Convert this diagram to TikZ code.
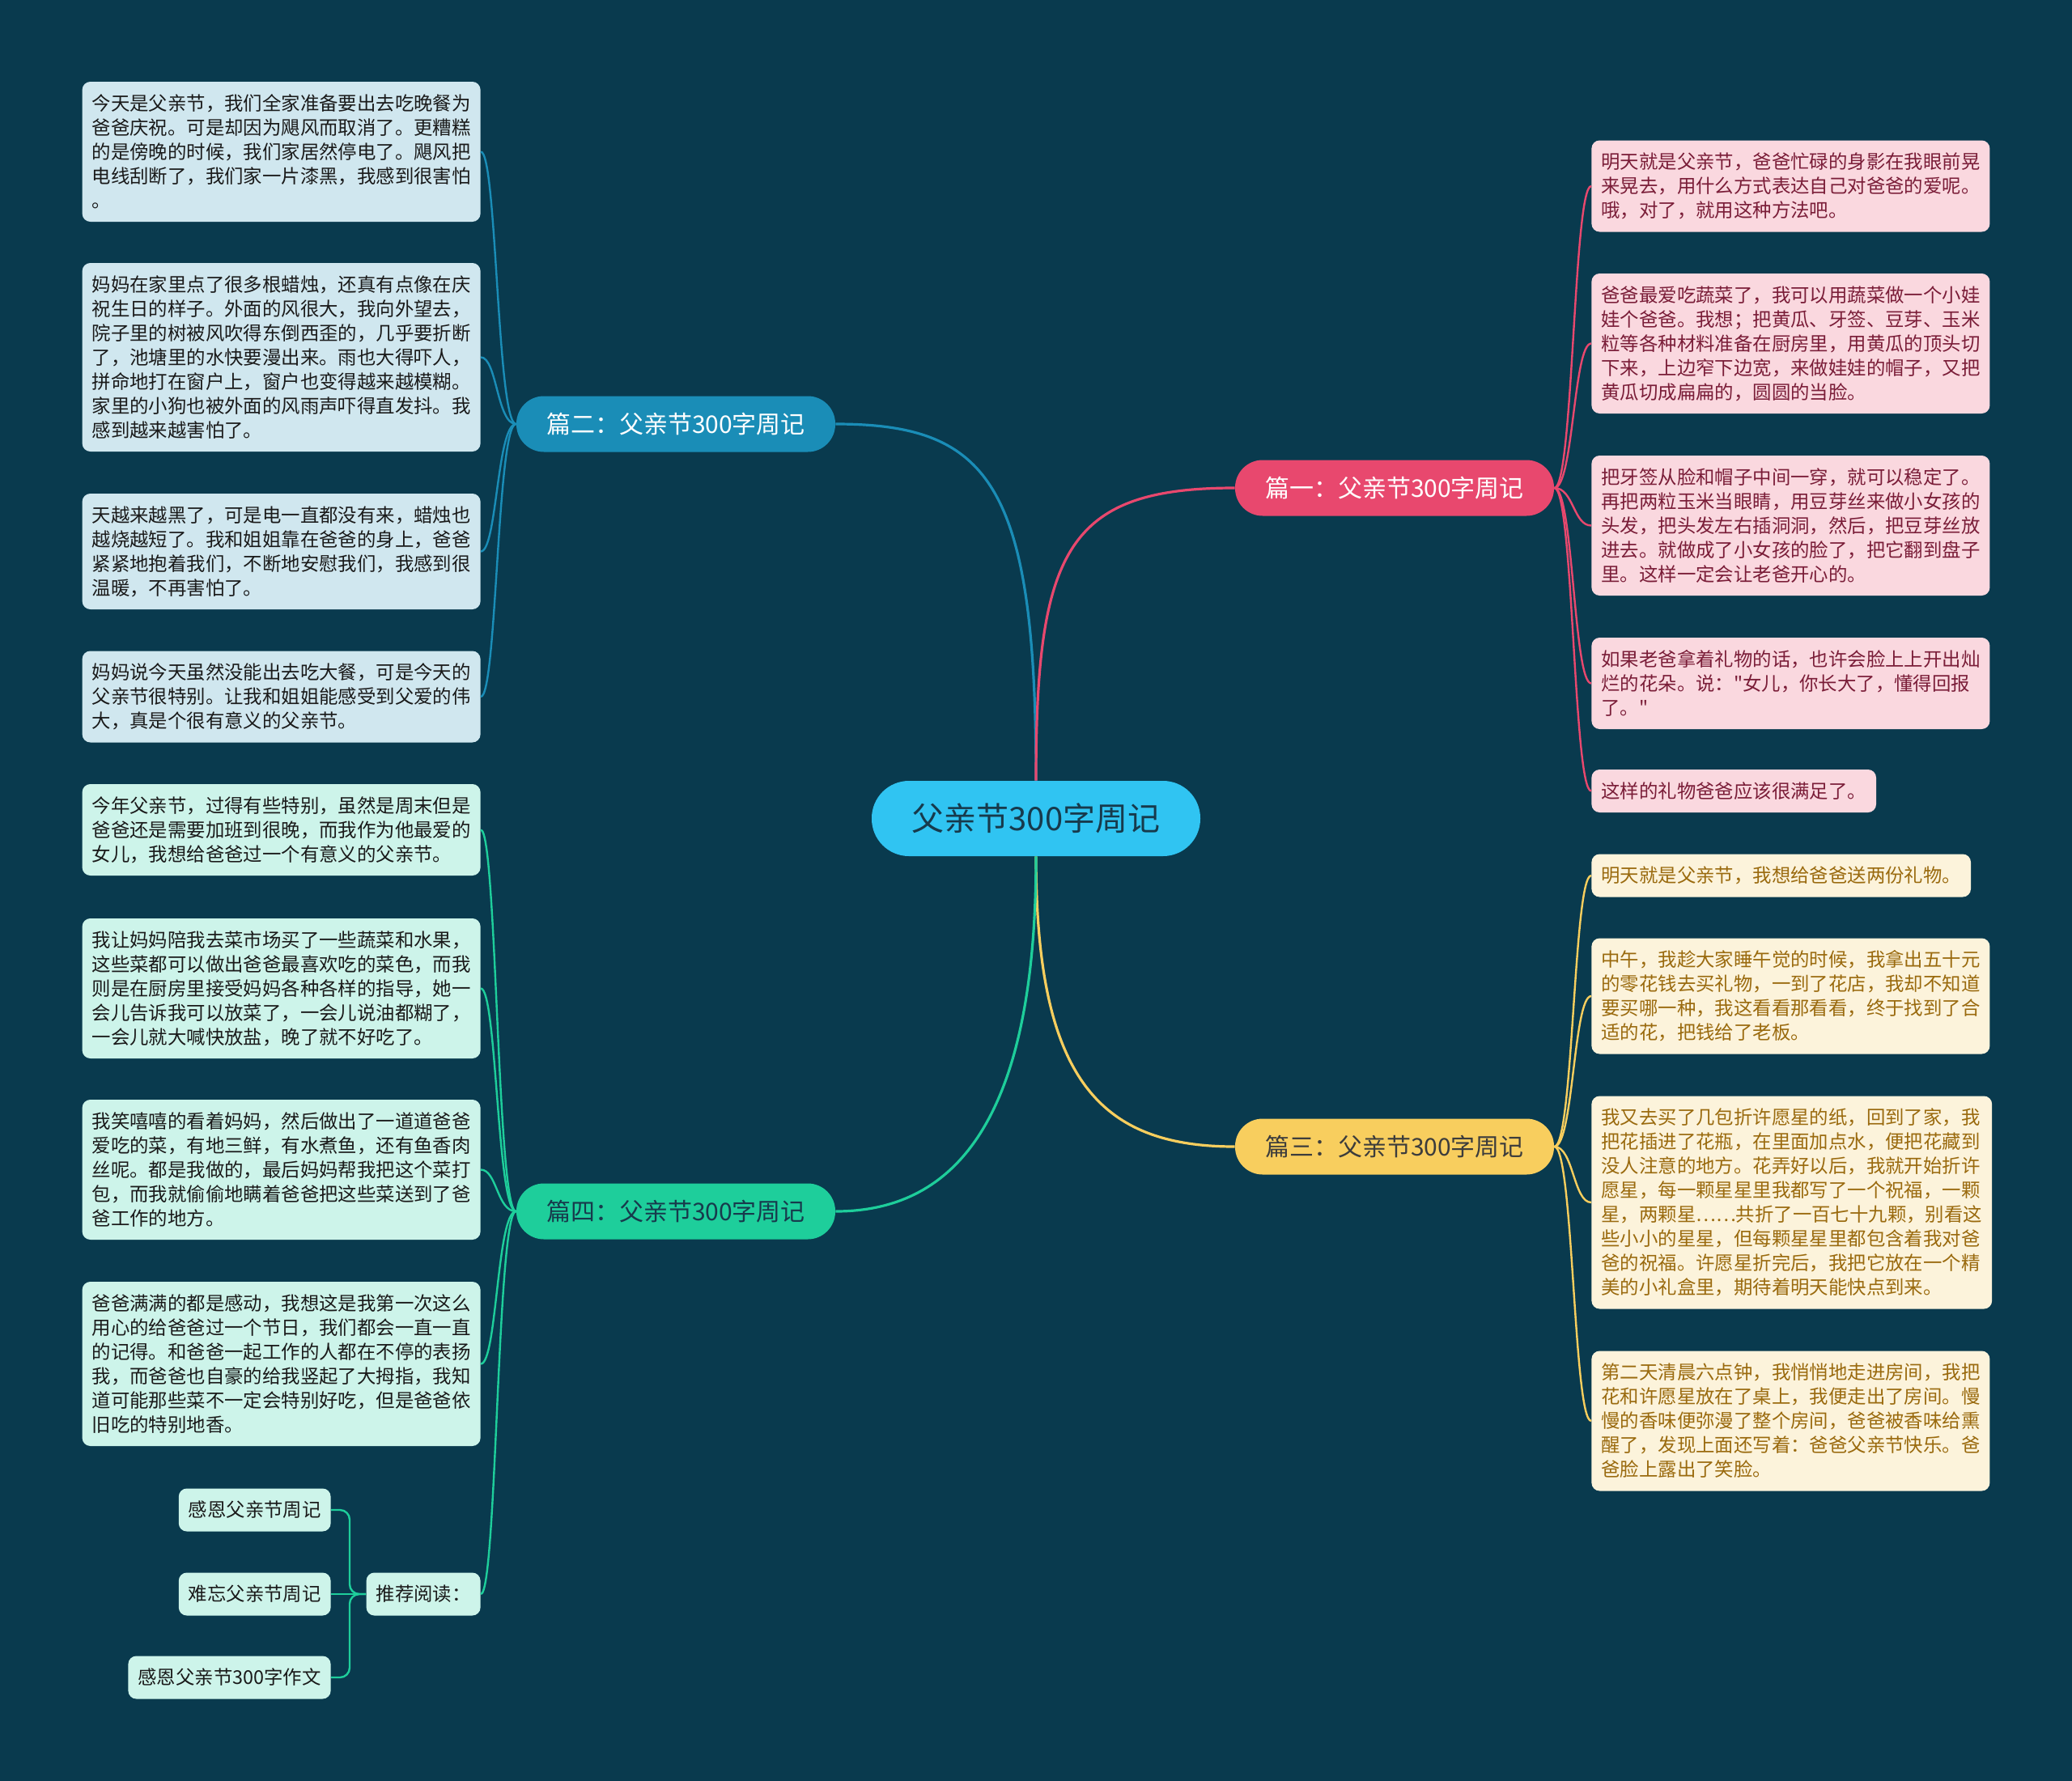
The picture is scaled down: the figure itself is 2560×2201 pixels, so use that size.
\documentclass[tikz,border=0pt]{standalone}
\usepackage{fontspec}
\setmainfont{Noto Sans CJK SC}
\newfontfamily\plainq{Noto Sans CJK SC}
\definecolor{bg}{HTML}{093A4E}
\definecolor{cblue}{HTML}{30C4F2}
\definecolor{bblue}{HTML}{1A8DB7}
\definecolor{bpink}{HTML}{E8486E}
\definecolor{byellow}{HTML}{F8CE5E}
\definecolor{bgreen}{HTML}{1ECE9B}
\definecolor{fblue}{HTML}{D0E7EF}
\definecolor{fpink}{HTML}{FAD8DF}
\definecolor{fcream}{HTML}{FCF3DB}
\definecolor{fmint}{HTML}{CDF4EA}
\definecolor{tdark}{HTML}{1A1A1A}
\definecolor{tpink}{HTML}{7A1D38}
\definecolor{tcream}{HTML}{9A6A0E}
\definecolor{tcenter}{HTML}{173A4C}
\begin{document}
\begin{tikzpicture}[x=0.5pt,y=-0.5pt,
  center/.style={fill=cblue, text=tcenter, rounded corners=23pt, minimum width=203pt, minimum height=46.5pt, font=\fontsize{20pt}{24pt}\selectfont},
  branch/.style={rounded corners=17pt, minimum width=197pt, minimum height=34.5pt, font=\fontsize{15pt}{18pt}\selectfont},
  leaf/.style={rounded corners=5pt, inner xsep=6pt, inner ysep=0pt, align=left, font=\fontsize{11.7pt}{15pt}\selectfont},
  nlines/.style={minimum height={#1*15pt+11.5pt}},
  leafB/.style={leaf, fill=fblue, text=tdark, anchor=east},
  leafM/.style={leaf, fill=fmint, text=tdark, anchor=east},
  leafP/.style={leaf, fill=fpink, text=tpink, anchor=west},
  leafY/.style={leaf, fill=fcream, text=tcream, anchor=west},
  mainline/.style={line width=1.6pt},
  subline/.style={line width=1.2pt},
]
\fill[bg] (0,0) rectangle (2560,2201);
\useasboundingbox (0,0) rectangle (2560,2201);

\coordinate (jl) at (614,0);
\coordinate (jr) at (1944,0);
\coordinate (jrec) at (432,0);

% center and branches
\node[center] (c) at (1280,1011.5) {父亲节300字周记};
\node[branch, fill=bblue, text=white] (b2) at (835,524) {篇二：父亲节300字周记};
\node[branch, fill=bpink, text=white] (b1) at (1723,603) {篇一：父亲节300字周记};
\node[branch, fill=byellow, text=tdark!85] (b3) at (1723,1417) {篇三：父亲节300字周记};
\node[branch, fill=bgreen, text=tcenter] (b4) at (835,1497) {篇四：父亲节300字周记};

\draw[mainline, bblue] (c.north) .. controls +(0,-367) and +(190,0) .. (b2.east);
\draw[mainline, bpink] (c.north) .. controls +(0,-285) and +(-207,0) .. (b1.west);
\draw[mainline, byellow] (c.south) .. controls +(0,275) and +(-167,0) .. (b3.west);
\draw[mainline, bgreen] (c.south) .. controls +(0,322) and +(150,0) .. (b4.east);

% left top leaves
\node[leafB, nlines=5] (l1) at (594,187.5) {今天是父亲节，我们全家准备要出去吃晚餐为\\爸爸庆祝。可是却因为飓风而取消了。更糟糕\\的是傍晚的时候，我们家居然停电了。飓风把\\电线刮断了，我们家一片漆黑，我感到很害怕\\。};
\node[leafB, nlines=7] (l2) at (594,441.5) {妈妈在家里点了很多根蜡烛，还真有点像在庆\\祝生日的样子。外面的风很大，我向外望去，\\院子里的树被风吹得东倒西歪的，几乎要折断\\了，池塘里的水快要漫出来。雨也大得吓人，\\拼命地打在窗户上，窗户也变得越来越模糊。\\家里的小狗也被外面的风雨声吓得直发抖。我\\感到越来越害怕了。};
\node[leafB, nlines=4] (l3) at (594,681.5) {天越来越黑了，可是电一直都没有来，蜡烛也\\越烧越短了。我和姐姐靠在爸爸的身上，爸爸\\紧紧地抱着我们，不断地安慰我们，我感到很\\温暖，不再害怕了。};
\node[leafB, nlines=3] (l4) at (594,861) {妈妈说今天虽然没能出去吃大餐，可是今天的\\父亲节很特别。让我和姐姐能感受到父爱的伟\\大，真是个很有意义的父亲节。};

\foreach \n in {l1,l2,l3,l4}
  \draw[subline, bblue] (b2.west) .. controls (b2.west -| jl) and (\n.east -| jl) .. (\n.east);

% left bottom leaves
\node[leafM, nlines=3] (m1) at (594,1025.5) {今年父亲节，过得有些特别，虽然是周末但是\\爸爸还是需要加班到很晚，而我作为他最爱的\\女儿，我想给爸爸过一个有意义的父亲节。};
\node[leafM, nlines=5] (m2) at (594,1221.5) {我让妈妈陪我去菜市场买了一些蔬菜和水果，\\这些菜都可以做出爸爸最喜欢吃的菜色，而我\\则是在厨房里接受妈妈各种各样的指导，她一\\会儿告诉我可以放菜了，一会儿说油都糊了，\\一会儿就大喊快放盐，晚了就不好吃了。};
\node[leafM, nlines=5] (m3) at (594,1445.5) {我笑嘻嘻的看着妈妈，然后做出了一道道爸爸\\爱吃的菜，有地三鲜，有水煮鱼，还有鱼香肉\\丝呢。都是我做的，最后妈妈帮我把这个菜打\\包，而我就偷偷地瞒着爸爸把这些菜送到了爸\\爸工作的地方。};
\node[leafM, nlines=6] (m4) at (594,1685.5) {爸爸满满的都是感动，我想这是我第一次这么\\用心的给爸爸过一个节日，我们都会一直一直\\的记得。和爸爸一起工作的人都在不停的表扬\\我，而爸爸也自豪的给我竖起了大拇指，我知\\道可能那些菜不一定会特别好吃，但是爸爸依\\旧吃的特别地香。};
\node[leafM, nlines=1] (rec) at (594,1970) {推荐阅读：};

\foreach \n in {m1,m2,m3,m4,rec}
  \draw[subline, bgreen] (b4.west) .. controls (b4.west -| jl) and (\n.east -| jl) .. (\n.east);

\node[leafM, nlines=1] (s1) at (409,1866) {感恩父亲节周记};
\node[leafM, nlines=1] (s2) at (409,1970) {难忘父亲节周记};
\node[leafM, nlines=1] (s3) at (409,2073) {感恩父亲节300字作文};

\draw[subline, bgreen, rounded corners=6pt] (rec.west) -- (rec.west -| jrec) -- (s1.east -| jrec) -- (s1.east);
\draw[subline, bgreen, rounded corners=6pt] (rec.west) -- (rec.west -| jrec) -- (s3.east -| jrec) -- (s3.east);
\draw[subline, bgreen] (rec.west) -- (s2.east);

% right top leaves
\node[leafP, nlines=3] (r1) at (1966,230) {明天就是父亲节，爸爸忙碌的身影在我眼前晃\\来晃去，用什么方式表达自己对爸爸的爱呢。\\哦，对了，就用这种方法吧。};
\node[leafP, nlines=5] (r2) at (1966,424.5) {爸爸最爱吃蔬菜了，我可以用蔬菜做一个小娃\\娃个爸爸。我想；把黄瓜、牙签、豆芽、玉米\\粒等各种材料准备在厨房里，用黄瓜的顶头切\\下来，上边窄下边宽，来做娃娃的帽子，又把\\黄瓜切成扁扁的，圆圆的当脸。};
\node[leafP, nlines=5] (r3) at (1966,649.5) {把牙签从脸和帽子中间一穿，就可以稳定了。\\再把两粒玉米当眼睛，用豆芽丝来做小女孩的\\头发，把头发左右插洞洞，然后，把豆芽丝放\\进去。就做成了小女孩的脸了，把它翻到盘子\\里。这样一定会让老爸开心的。};
\node[leafP, nlines=3] (r4) at (1966,844.5) {如果老爸拿着礼物的话，也许会脸上上开出灿\\烂的花朵。说：{\plainq "}女儿，你长大了，懂得回报\\了。{\plainq "}};
\node[leafP, nlines=1] (r5) at (1966,977.5) {这样的礼物爸爸应该很满足了。};

\foreach \n in {r1,r2,r3,r4,r5}
  \draw[subline, bpink] (b1.east) .. controls (b1.east -| jr) and (\n.west -| jr) .. (\n.west);

% right bottom leaves
\node[leafY, nlines=1] (y1) at (1966,1082) {明天就是父亲节，我想给爸爸送两份礼物。};
\node[leafY, nlines=4] (y2) at (1966,1231) {中午，我趁大家睡午觉的时候，我拿出五十元\\的零花钱去买礼物，一到了花店，我却不知道\\要买哪一种，我这看看那看看，终于找到了合\\适的花，把钱给了老板。};
\node[leafY, nlines=8] (y3) at (1966,1486) {我又去买了几包折许愿星的纸，回到了家，我\\把花插进了花瓶，在里面加点水，便把花藏到\\没人注意的地方。花弄好以后，我就开始折许\\愿星，每一颗星星里我都写了一个祝福，一颗\\星，两颗星……共折了一百七十九颗，别看这\\些小小的星星，但每颗星星里都包含着我对爸\\爸的祝福。许愿星折完后，我把它放在一个精\\美的小礼盒里，期待着明天能快点到来。};
\node[leafY, nlines=5] (y4) at (1966,1756) {第二天清晨六点钟，我悄悄地走进房间，我把\\花和许愿星放在了桌上，我便走出了房间。慢\\慢的香味便弥漫了整个房间，爸爸被香味给熏\\醒了，发现上面还写着：爸爸父亲节快乐。爸\\爸脸上露出了笑脸。};

\foreach \n in {y1,y2,y3,y4}
  \draw[subline, byellow] (b3.east) .. controls (b3.east -| jr) and (\n.west -| jr) .. (\n.west);
\end{tikzpicture}
\end{document}
